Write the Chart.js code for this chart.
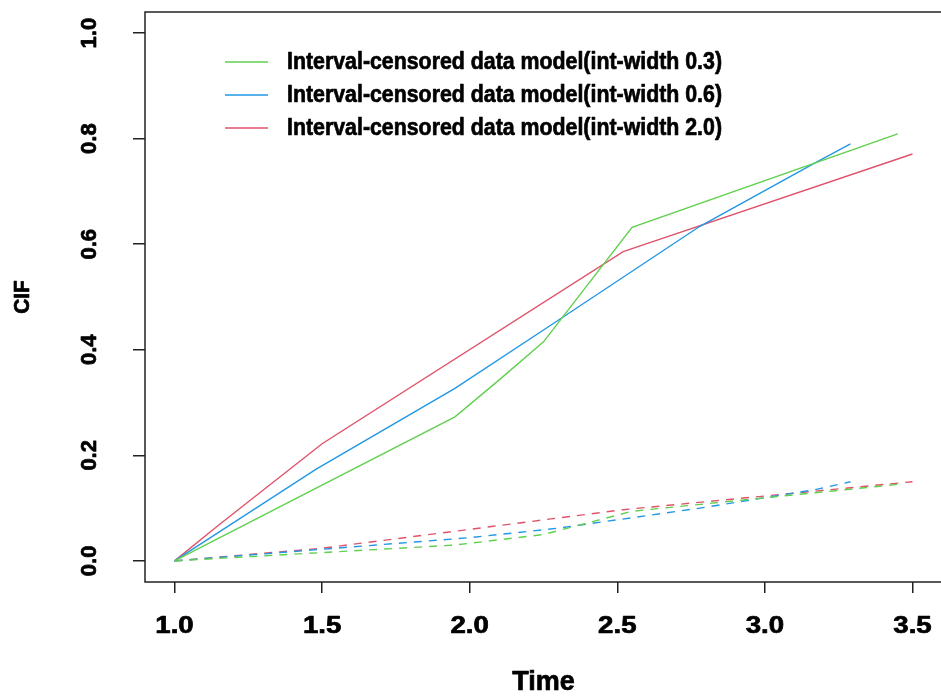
<!DOCTYPE html>
<html><head><meta charset="utf-8">
<script src="https://cdn.jsdelivr.net/npm/chart.js@4.4.0/dist/chart.umd.min.js"></script>
<style>
html,body{margin:0;padding:0;background:#fff;overflow:hidden;width:941px;height:698px}
#wrap{width:943px;height:698px;position:relative}
</style></head>
<body><div id="wrap"><canvas id="c" width="943" height="698"></canvas></div>
<script>
// ---- data ----
const xTicks = [1.0, 1.5, 2.0, 2.5, 3.0, 3.5];
const yTicks = [0.0, 0.2, 0.4, 0.6, 0.8, 1.0];
const xTitle = "Time";
const yTitle = "CIF";
const legendLabels = [
  "Interval-censored data model(int-width 0.3)",
  "Interval-censored data model(int-width 0.6)",
  "Interval-censored data model(int-width 2.0)"
];
const seriesColors = ["#61D04F", "#2297E6", "#DF536B"];

// solid lines
const time03 = [1.0, 1.95, 2.1, 2.25, 2.55, 3.45];
const cif03  = [0.0, 0.273, 0.343, 0.415, 0.632, 0.809];
const time06 = [1.0, 1.48, 1.95, 2.3, 2.78, 3.17, 3.29];
const cif06  = [0.0, 0.174, 0.327, 0.456, 0.634, 0.754, 0.79];
const time20 = [1.0, 1.15, 1.5, 2.52, 3.5];
const cif20  = [0.0, 0.068, 0.222, 0.586, 0.771];

// dashed lines
const timeD03 = [1.0, 1.95, 2.25, 2.55, 3.45];
const cifD03  = [0.0, 0.03, 0.05, 0.094, 0.145];
const timeD06 = [1.0, 1.5, 2.0, 2.3, 2.78, 3.17, 3.29];
const cifD06  = [0.0, 0.022, 0.044, 0.062, 0.10, 0.135, 0.15];
const timeD20 = [1.0, 1.5, 2.52, 3.5];
const cifD20  = [0.0, 0.024, 0.097, 0.15];

const pts = (t, v) => t.map((x, i) => ({x: x, y: v[i]}));

const FONT = '"Liberation Sans", Arial, Helvetica, sans-serif';
function txt(ctx, s, x, y, size, sx, rot, align) {
  ctx.save();
  ctx.translate(x, y);
  if (rot) ctx.rotate(rot);
  ctx.scale(sx, 1);
  ctx.font = 'bold ' + size + 'px ' + FONT;
  ctx.fillStyle = '#000';
  ctx.strokeStyle = '#000';
  ctx.lineWidth = 0.7;
  ctx.lineJoin = 'round';
  ctx.textAlign = align || 'center';
  ctx.textBaseline = 'middle';
  ctx.fillText(s, 0, 0);
  ctx.strokeText(s, 0, 0);
  ctx.restore();
}

const rPlot = {
  id: 'rPlot',
  afterDraw(chart) {
    const ctx = chart.ctx, a = chart.chartArea;
    const xs = chart.scales.x, ys = chart.scales.y;
    ctx.save();
    ctx.strokeStyle = '#222';
    ctx.lineWidth = 1.5;
    ctx.strokeRect(a.left, a.top, a.right - a.left, a.bottom - a.top);
    ctx.restore();
    // x tick labels
    xs.ticks.forEach(t => {
      txt(ctx, t.value.toFixed(1), xs.getPixelForValue(t.value), 627, 23, 1.2);
    });
    // y tick labels (rotated)
    ys.ticks.forEach(t => {
      txt(ctx, t.value.toFixed(1), 90, ys.getPixelForValue(t.value), 22, 1.0, -Math.PI / 2);
    });
    // axis titles
    txt(ctx, xTitle, (a.left + a.right) / 2, 683, 27, 1.0);
    txt(ctx, yTitle, 22.5, (a.top + a.bottom) / 2, 22, 0.95, -Math.PI / 2);
    // legend
    const ly = [62, 95, 128];
    legendLabels.forEach((lab, i) => {
      ctx.save();
      ctx.strokeStyle = seriesColors[i];
      ctx.lineWidth = 1.5;
      ctx.beginPath();
      ctx.moveTo(225, ly[i]); ctx.lineTo(268, ly[i]);
      ctx.stroke();
      ctx.font = 'bold 24px ' + FONT;
      const w = ctx.measureText(lab).width;
      ctx.restore();
      txt(ctx, lab, 287, ly[i], 24, 435 / w, 0, 'left');
    });
  }
};

const mk = (label, data, color, dash) => ({
  label: label, data: data, borderColor: color, backgroundColor: color,
  borderWidth: 1.4, pointRadius: 0, tension: 0, fill: false,
  borderDash: dash ? [8, 7] : []
});

new Chart(document.getElementById('c'), {
  type: 'line',
  data: {
    datasets: [
      mk(legendLabels[0], pts(time03, cif03), seriesColors[0], false),
      mk(legendLabels[1], pts(time06, cif06), seriesColors[1], false),
      mk(legendLabels[2], pts(time20, cif20), seriesColors[2], false),
      mk('dashed 0.3', pts(timeD03, cifD03), seriesColors[0], true),
      mk('dashed 0.6', pts(timeD06, cifD06), seriesColors[1], true),
      mk('dashed 2.0', pts(timeD20, cifD20), seriesColors[2], true)
    ]
  },
  options: {
    responsive: false,
    devicePixelRatio: 1,
    animation: false,
    layout: {padding: {top: 12, right: 1, left: 0, bottom: 0}},
    plugins: {legend: {display: false}, tooltip: {enabled: false}},
    scales: {
      x: {
        type: 'linear', position: 'bottom', min: 0.9, max: 3.6,
        afterBuildTicks: s => { s.ticks = xTicks.map(v => ({value: v})); },
        afterFit: s => { s.height = 698 - 582; },
        ticks: {display: false},
        border: {display: false},
        grid: {display: true, drawOnChartArea: false, drawTicks: true, tickLength: 11, color: '#222', lineWidth: 1.5}
      },
      y: {
        type: 'linear', position: 'left', min: -0.04, max: 1.04,
        afterBuildTicks: s => { s.ticks = yTicks.map(v => ({value: v})); },
        afterFit: s => { s.width = 145; },
        ticks: {display: false},
        border: {display: false},
        grid: {display: true, drawOnChartArea: false, drawTicks: true, tickLength: 12, color: '#222', lineWidth: 1.5}
      }
    }
  },
  plugins: [rPlot]
});
</script>
</body></html>
